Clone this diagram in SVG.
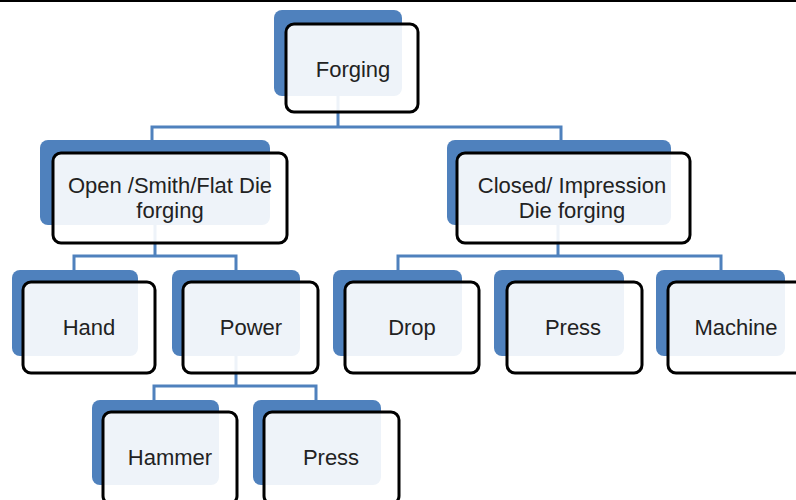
<svg xmlns="http://www.w3.org/2000/svg" width="796" height="500" viewBox="0 0 796 500">
<defs>
<style>
.bk{fill:#4f81bd}
.fr{fill:#ffffff;fill-opacity:0.9;stroke:#000;stroke-width:3}
.t{font-family:"Liberation Sans",Arial,sans-serif;font-size:22px;fill:#222;text-anchor:middle}
.c{fill:none;stroke:#4f81bd;stroke-width:3}
</style>
</defs>
<rect x="0" y="0" width="796" height="500" fill="#fff"/>
<line x1="0" y1="1" x2="796" y2="1" stroke="#000" stroke-width="2"/>
<g id="connectors">
<path class="c" d="M338 96 V127 M152 140 V127 H561 V140"/>
<path class="c" d="M155 225 V256 M74 270 V256 H236 V270"/>
<path class="c" d="M558 225 V256 M398 270 V256 H721 V270"/>
<path class="c" d="M236 356 V386 M154 400 V386 H316 V400"/>
</g>
<g id="forging">
<rect class="bk" x="274" y="10" width="128" height="86" rx="8"/>
<rect class="fr" x="286" y="24" width="132" height="88" rx="8"/>
<text class="t" x="353" y="77">Forging</text>
</g>
<g id="open">
<rect class="bk" x="40" y="140" width="230" height="85" rx="8"/>
<rect class="fr" x="53" y="153" width="234" height="90" rx="8"/>
<text class="t" x="170" y="193">Open /Smith/Flat Die</text>
<text class="t" x="170" y="218">forging</text>
</g>
<g id="closed">
<rect class="bk" x="447" y="140" width="224" height="85" rx="8"/>
<rect class="fr" x="457" y="153" width="233" height="90" rx="8"/>
<text class="t" x="572" y="193">Closed/ Impression</text>
<text class="t" x="572" y="218">Die forging</text>
</g>
<g id="hand">
<rect class="bk" x="12" y="270" width="126" height="86" rx="8"/>
<rect class="fr" x="23" y="282" width="132" height="91" rx="8"/>
<text class="t" x="89" y="335">Hand</text>
</g>
<g id="power">
<rect class="bk" x="172" y="270" width="128" height="86" rx="8"/>
<rect class="fr" x="183" y="282" width="135" height="91" rx="8"/>
<text class="t" x="251" y="335">Power</text>
</g>
<g id="drop">
<rect class="bk" x="333" y="270" width="129" height="86" rx="8"/>
<rect class="fr" x="345" y="282" width="134" height="91" rx="8"/>
<text class="t" x="412" y="335">Drop</text>
</g>
<g id="press-closed">
<rect class="bk" x="494" y="270" width="130" height="86" rx="8"/>
<rect class="fr" x="507" y="282" width="135" height="91" rx="8"/>
<text class="t" x="573" y="335">Press</text>
</g>
<g id="machine">
<rect class="bk" x="656" y="270" width="129" height="86" rx="8"/>
<rect class="fr" x="668" y="282" width="135" height="91" rx="8"/>
<text class="t" x="736" y="335">Machine</text>
</g>
<g id="hammer">
<rect class="bk" x="92" y="400" width="127" height="85" rx="8"/>
<rect class="fr" x="103" y="412" width="134" height="92" rx="8"/>
<text class="t" x="170" y="465">Hammer</text>
</g>
<g id="press-power">
<rect class="bk" x="253" y="400" width="128" height="85" rx="8"/>
<rect class="fr" x="264" y="412" width="135" height="92" rx="8"/>
<text class="t" x="331" y="465">Press</text>
</g>
</svg>
